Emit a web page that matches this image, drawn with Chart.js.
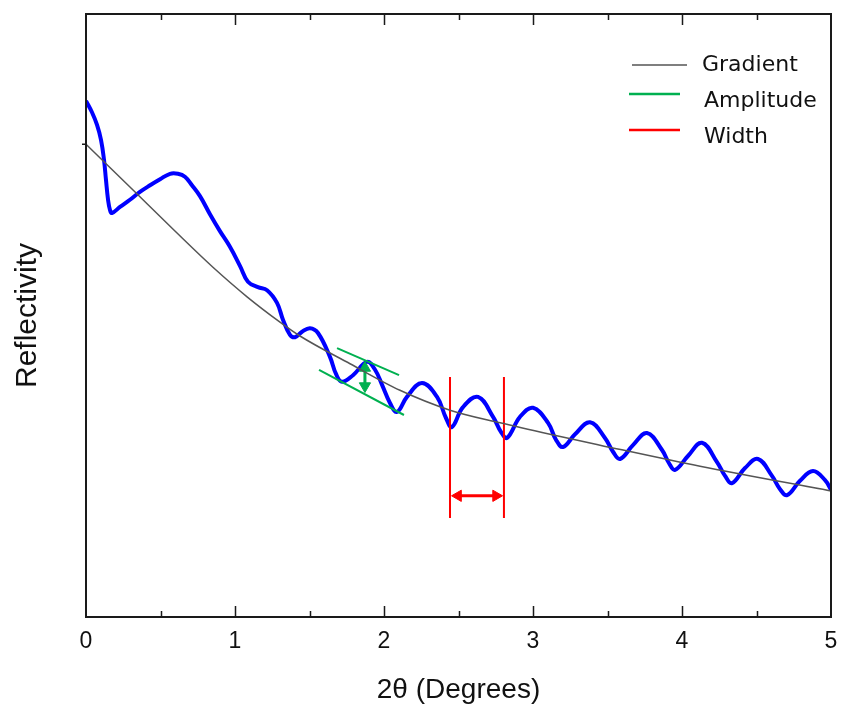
<!DOCTYPE html>
<html>
<head>
<meta charset="utf-8">
<script src="https://cdn.jsdelivr.net/npm/chart.js@4"></script>
<style>
  html, body { margin: 0; padding: 0; background: #fff; }
  canvas { display: block; }
</style>
</head>
<body>
<canvas id="chart" width="841" height="707"></canvas>
<script>
// reflectivity scan, arbitrary units (0 = bottom of frame, 100 = top)
const scanAngle = [0, 0.040, 0.074, 0.101, 0.121, 0.134, 0.148, 0.161, 0.174, 0.228,
  0.295, 0.362, 0.430, 0.497, 0.564, 0.617, 0.664, 0.711, 0.765, 0.832,
  0.899, 0.966, 1.034, 1.087, 1.154, 1.215, 1.282, 1.322, 1.369, 1.403,
  1.450, 1.503, 1.557, 1.638, 1.678, 1.718, 1.792, 1.886, 1.940, 1.987,
  2.040, 2.087, 2.154, 2.255, 2.356, 2.416, 2.456, 2.530, 2.631, 2.732,
  2.785, 2.826, 2.913, 3.000, 3.101, 3.154, 3.201, 3.282, 3.383, 3.483,
  3.537, 3.584, 3.671, 3.765, 3.866, 3.913, 3.953, 4.040, 4.134, 4.235,
  4.289, 4.336, 4.423, 4.510, 4.604, 4.658, 4.705, 4.792, 4.879, 4.960, 5.0];
const scanReflectivity = [85.6, 83.7, 81.6, 79.1, 75.8, 72.5, 69.2, 67.5, 67.0, 68.0,
  69.2, 70.5, 71.6, 72.6, 73.5, 73.5, 73.0, 71.6, 69.8, 66.8,
  64.0, 61.4, 58.2, 55.6, 54.7, 54.2, 52.1, 49.3, 46.8, 46.4,
  47.3, 47.9, 47.1, 43.1, 40.3, 39.0, 40.1, 42.3, 41.0, 38.5,
  35.5, 34.0, 36.5, 38.8, 36.5, 33.0, 31.5, 34.8, 36.5, 33.2,
  30.7, 29.7, 33.2, 34.7, 32.2, 29.4, 28.2, 30.3, 32.3, 29.7,
  27.4, 26.2, 28.5, 30.5, 27.7, 25.5, 24.4, 26.7, 28.9, 25.7,
  23.4, 22.2, 24.7, 26.2, 23.4, 21.2, 20.2, 22.6, 24.2, 22.7, 21.1];

// fitted background ("Gradient")
const gradientAngle = [0, 0.295, 0.597, 0.852, 1.081, 1.302, 1.436, 1.772, 2.107, 2.443,
  2.779, 3.114, 3.450, 4.121, 5.0];
const gradientReflectivity = [78.4, 71.3, 64.0, 58.0, 53.1, 48.9, 46.6, 42.0, 37.6, 34.3,
  32.2, 30.3, 28.5, 25.0, 20.9];

// amplitude markers
const ampUpperAngle = [1.685, 2.101];
const ampUpperValue = [44.6, 40.1];
const ampLowerAngle = [1.564, 2.134];
const ampLowerValue = [41.0, 33.5];
const ampArrowAngle = [1.872, 1.872];
const ampArrowValue = [41.3, 38.3];

// width markers
const widthLeftAngle = [2.443, 2.443];
const widthRightAngle = [2.805, 2.805];
const widthLineValue = [39.8, 16.4];
const widthArrowAngle = [2.497, 2.752];
const widthArrowValue = [20.1, 20.1];

const legendLabels = ['Gradient', 'Amplitude', 'Width'];
const legendColors = ['#555555', '#00b050', '#ff0000'];

const GREEN = '#00b050';
const RED = '#ff0000';

function pts(xs, ys) {
  return xs.map((v, i) => ({ x: v, y: ys[i] }));
}

function seg(xs, ys, color, width) {
  return {
    data: pts(xs, ys),
    borderColor: color,
    borderWidth: width,
    pointRadius: 0,
    tension: 0
  };
}

function arrow(xs, ys, color, rot) {
  return {
    data: pts(xs, ys),
    borderColor: color,
    backgroundColor: color,
    borderWidth: 3,
    pointStyle: 'triangle',
    pointRadius: 6.5,
    pointRotation: rot,
    pointBackgroundColor: color,
    pointBorderColor: color,
    pointBorderWidth: 1,
    tension: 0
  };
}

const frame = {
  id: 'frame',
  afterDatasetsDraw(chart) {
    const { ctx, chartArea: a, scales: { x, y } } = chart;
    ctx.save();
    ctx.strokeStyle = '#1a1a1a';
    ctx.lineWidth = 2;
    ctx.strokeRect(a.left, a.top, a.right - a.left, a.bottom - a.top);

    // ticks point inward on top and bottom, every 0.5
    ctx.lineWidth = 1.5;
    ctx.beginPath();
    for (let v = 0.5; v < 5; v += 0.5) {
      const px = Math.round(x.getPixelForValue(v)) + 0.5;
      const len = Number.isInteger(v) ? 11 : 6;
      ctx.moveTo(px, a.top); ctx.lineTo(px, a.top + len);
      ctx.moveTo(px, a.bottom); ctx.lineTo(px, a.bottom - len);
    }
    // little stub on the left where the gradient starts
    const ty = y.getPixelForValue(gradientReflectivity[0]);
    ctx.moveTo(a.left - 4, ty); ctx.lineTo(a.left, ty);
    ctx.stroke();

    // legend, top right
    const textY = [65, 101, 137];
    const lineY = [65, 94, 130];
    ctx.font = '22px "DejaVu Sans"';
    ctx.textBaseline = 'middle';
    ctx.textAlign = 'left';
    legendLabels.forEach((label, i) => {
      ctx.strokeStyle = legendColors[i];
      ctx.lineWidth = i === 0 ? 1.5 : 2.5;
      ctx.beginPath();
      ctx.moveTo(a.right - (i === 0 ? 199 : 202), lineY[i]);
      ctx.lineTo(a.right - (i === 0 ? 144 : 151), lineY[i]);
      ctx.stroke();
      ctx.fillStyle = '#111';
      ctx.fillText(label, a.right - (i === 0 ? 129 : 127), textY[i]);
    });
    ctx.restore();
  }
};

new Chart(document.getElementById('chart'), {
  type: 'line',
  data: {
    datasets: [
      {
        data: pts(gradientAngle, gradientReflectivity),
        borderColor: '#555555',
        borderWidth: 1.5,
        pointRadius: 0,
        cubicInterpolationMode: 'monotone'
      },
      seg(ampUpperAngle, ampUpperValue, GREEN, 2),
      seg(ampLowerAngle, ampLowerValue, GREEN, 2),
      arrow(ampArrowAngle, ampArrowValue, GREEN, [0, 180]),
      seg(widthLeftAngle, widthLineValue, RED, 2),
      seg(widthRightAngle, widthLineValue, RED, 2),
      arrow(widthArrowAngle, widthArrowValue, RED, [270, 90]),
      {
        data: pts(scanAngle, scanReflectivity),
        borderColor: '#0000ff',
        borderWidth: 4,
        pointRadius: 0,
        tension: 0.4
      }
    ]
  },
  options: {
    responsive: false,
    animation: false,
    devicePixelRatio: 1,
    layout: { padding: { top: 14, right: 10, left: 0, bottom: 0 } },
    plugins: { legend: { display: false }, tooltip: { enabled: false } },
    scales: {
      x: {
        type: 'linear',
        min: 0,
        max: 5,
        grid: { display: false },
        border: { display: false },
        afterFit(s) {
          s.height = 90;
          s.paddingLeft = 0;
          s.paddingRight = 0;
        },
        ticks: {
          stepSize: 1,
          color: '#111',
          padding: 3,
          font: { family: '"Liberation Sans", Arial', size: 23 }
        },
        title: {
          display: true,
          text: '2θ (Degrees)',
          color: '#111',
          padding: { top: 0, bottom: 0 },
          font: { family: '"Liberation Sans", Arial', size: 28 }
        }
      },
      y: {
        type: 'linear',
        min: 0,
        max: 100,
        grid: { display: false },
        border: { display: false },
        afterFit(s) { s.width = 86; },
        ticks: { display: false },
        title: {
          display: true,
          text: 'Reflectivity',
          color: '#111',
          padding: { top: 10, bottom: 0 },
          font: { family: '"Liberation Sans", Arial', size: 30 }
        }
      }
    }
  },
  plugins: [frame]
});
</script>
</body>
</html>
